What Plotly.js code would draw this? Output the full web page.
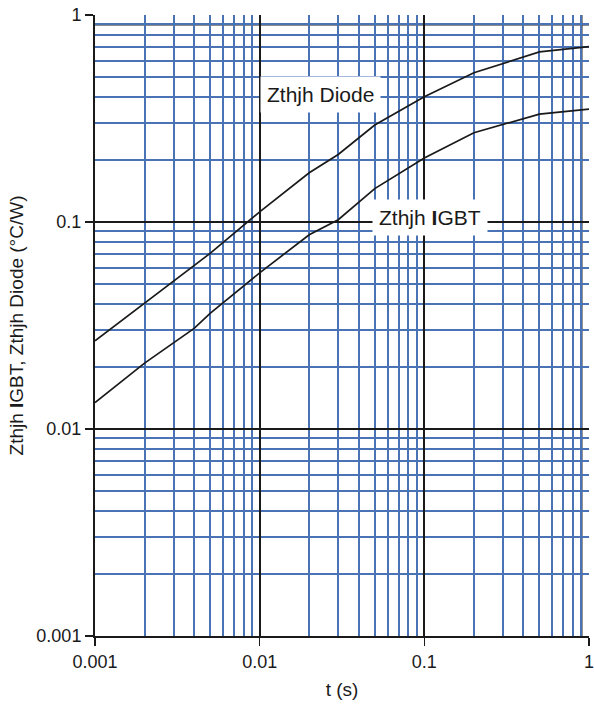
<!DOCTYPE html>
<html>
<head>
<meta charset="utf-8">
<script src="https://cdn.plot.ly/plotly-3.0.1.min.js"></script>
<style>html,body{margin:0;padding:0;background:#fff;}#chart{width:594px;height:706px;}</style>
</head>
<body>
<div id="chart"></div>
<script>
var t = [0.001, 0.002, 0.004, 0.005, 0.01, 0.02, 0.03, 0.05, 0.1, 0.2, 0.5, 1];
var zthDiode = [0.0267, 0.0404, 0.0611, 0.0705, 0.112, 0.173, 0.212, 0.294, 0.403, 0.526, 0.663, 0.703];
var zthIGBT  = [0.0134, 0.0208, 0.0306, 0.0362, 0.0568, 0.0868, 0.1026, 0.145, 0.204, 0.270, 0.332, 0.351];
var tickVals = [0.001, 0.01, 0.1, 1];
var tickText = ['0.001', '0.01', '0.1', '1'];
var labelDiode = 'Zthjh Diode';
var labelIGBT = 'Zthjh <b>I</b>GBT';

var blue = '#4a73b6';
var black = '#1a1a1a';
var font = 'Liberation Sans, Arial, sans-serif';

var traces = [
  {x: t, y: zthDiode, mode: 'lines', line: {color: black, width: 1.7}, hoverinfo: 'skip'},
  {x: t, y: zthIGBT, mode: 'lines', line: {color: black, width: 1.7}, hoverinfo: 'skip'}
];

var axisCommon = {
  type: 'log',
  tickvals: tickVals,
  ticktext: tickText,
  showgrid: true,
  gridcolor: black,
  gridwidth: 2,
  ticks: 'outside',
  ticklen: 8,
  tickwidth: 1.5,
  tickcolor: black,
  showline: true,
  linecolor: black,
  linewidth: 2,
  mirror: false,
  zeroline: false,
  ticklabeloverflow: 'allow',
  tickfont: {family: font, size: 18, color: black},
  minor: {dtick: 'D1', showgrid: true, gridcolor: blue, gridwidth: 2, ticks: ''}
};

var layout = {
  width: 594, height: 706,
  margin: {l: 95, r: 5, t: 15, b: 70},
  paper_bgcolor: '#fff', plot_bgcolor: '#fff',
  showlegend: false,
  xaxis: Object.assign({}, axisCommon, {
    range: [-3, 0],
    title: {text: 't (s)', font: {family: font, size: 19, color: black}, standoff: 12}
  }),
  yaxis: Object.assign({}, axisCommon, {
    range: [-3, 0],
    title: {text: 'Zthjh <b>I</b>GBT, Zthjh Diode (°C/W)', font: {family: font, size: 19, color: black}, standoff: 8}
  }),
  shapes: [
    {type: 'line', xref: 'x', yref: 'paper', x0: 0.9, x1: 0.9, y0: 0, y1: 1, line: {color: black, width: 2}, layer: 'below'},
    {type: 'line', xref: 'paper', yref: 'y', x0: 0, x1: 1, y0: 0.9, y1: 0.9, line: {color: black, width: 2}, layer: 'below'}
  ],
  annotations: [
    {x: Math.log10(0.0235), y: Math.log10(0.414), xref: 'x', yref: 'y', text: labelDiode, showarrow: false,
     font: {family: font, size: 21, color: black}, bgcolor: '#fff', borderpad: 6},
    {x: Math.log10(0.108), y: Math.log10(0.105), xref: 'x', yref: 'y', text: labelIGBT, showarrow: false,
     font: {family: font, size: 21, color: black}, bgcolor: '#fff', borderpad: 6}
  ]
};

Plotly.newPlot('chart', traces, layout, {staticPlot: true, displayModeBar: false});
</script>
</body>
</html>
